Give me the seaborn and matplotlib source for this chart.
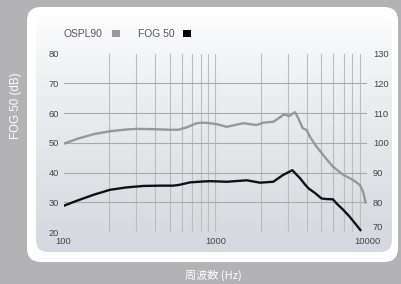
import numpy as np
import pandas as pd
import seaborn as sns
import matplotlib
matplotlib.use("Agg")
import matplotlib.pyplot as plt
from matplotlib.patches import FancyBboxPatch, Rectangle
from matplotlib.ticker import FixedLocator, NullFormatter, FixedFormatter

# ---- data ----
ospl_freq = [100, 122, 157, 202, 260, 303, 390, 502, 570, 647, 753, 831, 922, 1022,
             1190, 1530, 1875, 2070, 2410, 2600, 2840, 3060, 3360, 3530, 3770, 4000,
             4200, 4650, 5260, 5960, 6990, 8100, 8980, 9430, 9800]
ospl_db = [99.7, 101.3, 102.9, 103.9, 104.5, 104.7, 104.6, 104.4, 104.4, 105.2, 106.6,
           106.8, 106.6, 106.3, 105.4, 106.6, 106.0, 106.8, 107.1, 108.2, 109.6, 109.0,
           110.3, 108.2, 104.9, 104.3, 102.1, 98.7, 95.3, 92.0, 89.2, 87.5, 85.8, 83.5, 79.8]

fog_freq = [100, 122, 157, 202, 260, 336, 431, 530, 584, 681, 831, 922, 1070, 1190,
            1610, 1970, 2410, 2800, 3220, 3630, 3900, 4110, 4520, 5010, 5360, 5960,
            6300, 6990, 7700, 8530, 9060]
fog_db = [28.8, 30.5, 32.5, 34.2, 35.0, 35.5, 35.6, 35.6, 35.9, 36.7, 37.0, 37.1, 37.0,
          36.9, 37.4, 36.6, 36.9, 39.2, 40.8, 38.0, 36.0, 34.7, 33.2, 31.3, 31.1, 31.0,
          29.6, 27.4, 25.1, 22.3, 20.6]

left_ticks = [20, 30, 40, 50, 60, 70, 80]
right_ticks = [70, 80, 90, 100, 110, 120, 130]
x_ticks = [100, 1000, 10000]
x_tick_labels = ["100", "1000", "10000"]
legend_labels = ["OSPL90", "FOG 50"]
x_label = "周波数 (Hz)"
y_label = "FOG 50 (dB)"

ospl_df = pd.DataFrame({"freq": ospl_freq, "db": ospl_db})
fog_df = pd.DataFrame({"freq": fog_freq, "db": fog_db})

# ---- style ----
sns.set_style("white")
plt.rcParams["font.family"] = ["Liberation Sans", "DejaVu Sans"]

W, H = 401, 284
fig = plt.figure(figsize=(W / 100, H / 100), dpi=100)
fig.patch.set_facecolor("#b3b3b5")

# background panels (pixel coords)
bg = fig.add_axes([0, 0, 1, 1], zorder=-5)
bg.set_xlim(0, W)
bg.set_ylim(H, 0)
bg.axis("off")
white = FancyBboxPatch((27 + 14, 7 + 14), 371 - 28, 255 - 28,
                       boxstyle="round,pad=14", fc="white", ec="none")
bg.add_patch(white)
inner = FancyBboxPatch((36 + 12, 12 + 12), 356 - 24, 240 - 24,
                       boxstyle="round,pad=12", fc="none", ec="none")
bg.add_patch(inner)
grad = np.linspace(0, 1, 256).reshape(-1, 1)
top = np.array([1.0, 1.0, 1.0])
bot = np.array([213, 216, 222]) / 255.0
g = grad[:, :, None] ** 0.8
img = top[None, None, :] * (1 - g) + bot[None, None, :] * g
im = bg.imshow(img, extent=[36, 392, 252, 12], aspect="auto", zorder=1)
im.set_clip_path(inner)

# main axes
x0, x1 = 63.6, 367.0
y80, y20 = 53.7, 232.0
ax = fig.add_axes([x0 / W, 1 - y20 / H, (x1 - x0) / W, (y20 - y80) / H])
ax.patch.set_alpha(0)
ax2 = ax.twinx()
ax2.patch.set_alpha(0)

sns.lineplot(data=ospl_df, x="freq", y="db", ax=ax2, color="#989898", linewidth=1.7,
             estimator=None, sort=False, zorder=3)
sns.lineplot(data=fog_df, x="freq", y="db", ax=ax, color="#111111", linewidth=1.7,
             estimator=None, sort=False, zorder=4)

for a in (ax, ax2):
    a.set_xscale("log")
    a.set_xlim(100, 10000)
    for s in a.spines.values():
        s.set_visible(False)
    a.set_xlabel("")
    a.set_ylabel("")

ax.set_ylim(20, 80)
ax2.set_ylim(70, 130)

ax.xaxis.remove_overlapping_locs = False
ax.yaxis.remove_overlapping_locs = False
ax.xaxis.set_major_locator(FixedLocator(x_ticks))
ax.xaxis.set_major_formatter(FixedFormatter(x_tick_labels))
ax.xaxis.set_minor_locator(FixedLocator([200, 300, 400, 500, 600, 700, 800, 900, 1000,
                                         2000, 3000, 4000, 5000, 6000, 7000, 8000, 9000]))
ax.xaxis.set_minor_formatter(NullFormatter())
ax.set_yticks(left_ticks)
ax.yaxis.set_minor_locator(FixedLocator([30, 40, 50, 60, 70]))
ax.yaxis.set_minor_formatter(NullFormatter())
ax2.set_yticks(right_ticks)

ax.grid(False)
ax2.grid(False)
ax.grid(True, which="minor", axis="x", color="#bdbdbd", linewidth=0.8)
ax.grid(True, which="minor", axis="y", color="#a9a9a9", linewidth=0.8)
ax.set_axisbelow(True)

ax.tick_params(axis="both", which="both", length=0, labelsize=6.7, labelcolor="#444444")
ax.tick_params(axis="y", pad=3.3)
ax.tick_params(axis="x", pad=3.5)
ax2.tick_params(axis="both", which="both", length=0, labelsize=6.7, labelcolor="#444444")
ax2.tick_params(axis="y", pad=4.3)
ax2.xaxis.set_visible(False)
for lbl in ax2.get_yticklabels():
    if lbl.get_text() == "70":
        lbl.set_va("bottom")

# legend (text + square markers)
fig.text(63 / W, 1 - 33.7 / H, legend_labels[0], fontsize=7.4, color="#555555",
         ha="left", va="center")
fig.text(137.7 / W, 1 - 33.7 / H, legend_labels[1], fontsize=7.4, color="#555555",
         ha="left", va="center")
bg.add_patch(Rectangle((112, 30), 7.5, 7, fc="#9a9a9a", ec="none", zorder=3))
bg.add_patch(Rectangle((183, 30), 7.5, 7, fc="#000000", ec="none", zorder=3))

# axis titles (white on grey)
fig.text(16 / W, 1 - 106 / H, y_label, rotation=90, color="white", fontsize=8.3,
         ha="center", va="center")
fig.text(213 / W, 1 - 275 / H, x_label, color="white", fontsize=8,
         ha="center", va="center", family=["Noto Sans CJK JP", "DejaVu Sans"])

fig.savefig("out.png", dpi=100, facecolor=fig.get_facecolor())
